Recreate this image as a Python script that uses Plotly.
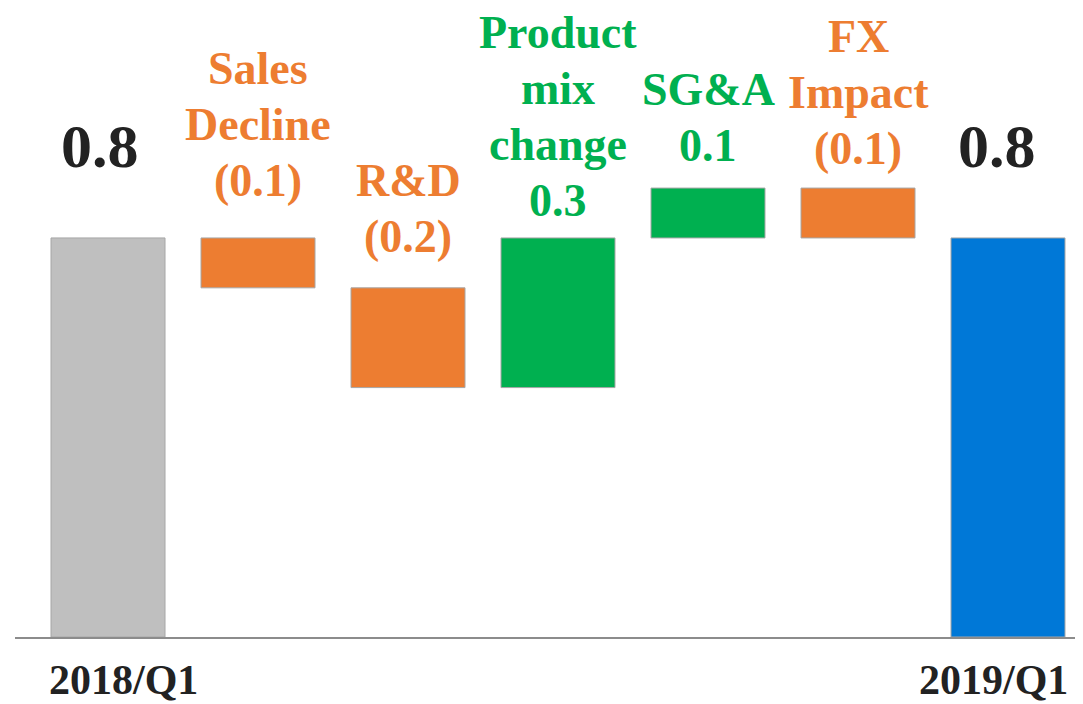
import plotly.graph_objects as go

categories = ["2018/Q1", "Sales Decline", "R&D", "Product mix change", "SG&A", "FX Impact", "2019/Q1"]
values = [0.8, -0.1, -0.2, 0.3, 0.1, -0.1, 0.8]
measures = ["absolute", "relative", "relative", "relative", "relative", "relative", "total"]
label_lines = [
    ["0.8"],
    ["Sales", "Decline", "(0.1)"],
    ["R&D", "(0.2)"],
    ["Product", "mix", "change", "0.3"],
    ["SG&A", "0.1"],
    ["FX", "Impact", "(0.1)"],
    ["0.8"],
]
tick_labels = ["2018/Q1", "", "", "", "", "", "2019/Q1"]

ORANGE = "#ED7D31"
GREEN = "#00B050"
colors = ["#BFBFBF", ORANGE, ORANGE, GREEN, GREEN, ORANGE, "#0078D7"]
label_colors = ["#222222", ORANGE, ORANGE, GREEN, GREEN, ORANGE, "#222222"]

# floating bars from running total
bases, heights, tops = [], [], []
running = 0
for v, m in zip(values, measures):
    if m == "relative":
        start = running
        running = running + v
        bases.append(min(start, running))
        heights.append(abs(v))
        tops.append(max(start, running))
    else:
        running = v
        bases.append(0)
        heights.append(v)
        tops.append(v)

x = list(range(len(categories)))

fig = go.Figure()
fig.add_trace(
    go.Bar(
        x=x,
        y=heights,
        base=bases,
        width=0.76,
        marker=dict(color=colors, line=dict(color="#A6A6A6", width=1)),
        hoverinfo="skip",
        showlegend=False,
    )
)

# labels above the bars, one annotation per line
gaps = [56, 30, 24, 10, 15, 12, 56]
line_step = 56
font_family = "Times New Roman, Tinos, Liberation Serif, DejaVu Serif, serif"
annotations = []
for i, lines in enumerate(label_lines):
    size = 62 if i in (0, 6) else 46
    dx = -8 if i == 0 else (-11 if i == 6 else 0)
    n = len(lines)
    for k, line in enumerate(lines):
        annotations.append(
            dict(
                x=x[i],
                y=tops[i],
                xref="x",
                yref="y",
                text=f"<b>{line}</b>",
                showarrow=False,
                yanchor="bottom",
                xanchor="center",
                xshift=dx,
                yshift=gaps[i] + (n - 1 - k) * line_step,
                font=dict(family=font_family, size=size, color=label_colors[i]),
            )
        )

# category labels under the axis
for i, t in enumerate(tick_labels):
    if not t:
        continue
    annotations.append(
        dict(
            x=x[i],
            y=0,
            xref="x",
            yref="paper",
            text=f"<b>{t}</b>",
            showarrow=False,
            yanchor="top",
            xanchor="center",
            xshift=15 if i == 0 else -15,
            yshift=-18,
            font=dict(family=font_family, size=42, color="#222222"),
        )
    )

fig.update_layout(
    width=1075,
    height=696,
    margin=dict(l=7, r=0, t=0, b=67),
    plot_bgcolor="white",
    paper_bgcolor="white",
    bargap=0.24,
    font=dict(family=font_family),
    annotations=annotations,
    xaxis=dict(
        range=[-0.62, 6.5],
        showticklabels=False,
        showgrid=False,
        zeroline=False,
        showline=True,
        linecolor="#8C8C8C",
        linewidth=2,
        ticks="",
        fixedrange=True,
    ),
    yaxis=dict(
        range=[0, 1.261],
        visible=False,
        showgrid=False,
        zeroline=False,
        fixedrange=True,
    ),
)

fig.write_html("out.html")
